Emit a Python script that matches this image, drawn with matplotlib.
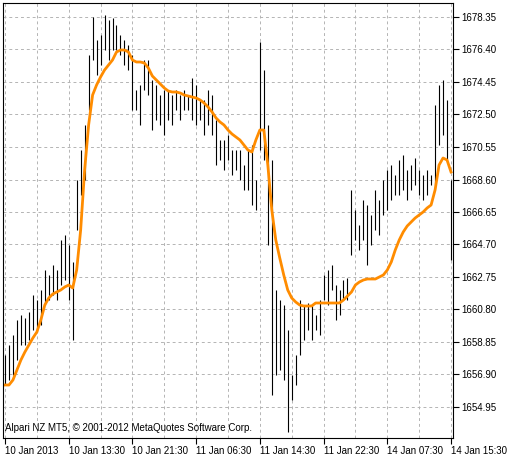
import numpy as np
import matplotlib.pyplot as plt
from matplotlib.ticker import FixedLocator, NullFormatter

plt.rcParams['font.family'] = ['Liberation Sans', 'DejaVu Sans']

# bar highs / lows (one bar every index)
highs = [1658.07, 1658.67, 1659.27, 1660.17, 1660.47, 1660.29, 1660.65, 1661.67, 1661.37, 1661.97,
         1663.17, 1662.87, 1663.47, 1663.17, 1664.97, 1665.27, 1664.67, 1663.65, 1668.57, 1670.37,
         1671.87, 1676.07, 1678.35, 1676.97, 1677.27, 1678.47, 1678.17, 1678.29, 1677.87, 1677.27,
         1676.97, 1676.67, 1676.07, 1673.97, 1674.27, 1675.77, 1675.77, 1674.57, 1674.27, 1673.67,
         1673.97, 1673.97, 1673.67, 1673.97, 1673.67, 1673.97, 1673.67, 1674.69, 1674.27, 1673.37,
         1673.37, 1673.97, 1673.67, 1672.17, 1670.97, 1670.97, 1671.27, 1670.37, 1670.37, 1670.37,
         1669.47, 1670.37, 1670.67, 1668.57, 1676.85, 1675.17, 1671.87, 1669.77, 1661.97, 1661.37,
         1661.07, 1659.57, 1656.87, 1658.07, 1661.37, 1661.07, 1661.19, 1661.07, 1660.47, 1661.37,
         1662.87, 1663.17, 1663.47, 1662.27, 1661.97, 1662.57, 1662.69, 1667.97, 1666.77, 1665.87,
         1667.37, 1667.07, 1666.47, 1667.97, 1667.37, 1668.57, 1669.17, 1669.47, 1668.87, 1669.77,
         1670.07, 1669.17, 1669.47, 1669.89, 1669.17, 1668.87, 1669.17, 1668.87, 1673.07, 1674.27,
         1674.57, 1673.37, 1668.57]
lows = [1656.27, 1656.57, 1656.87, 1657.77, 1658.67, 1658.67, 1658.97, 1659.57, 1659.45, 1659.87,
        1661.07, 1661.37, 1661.67, 1661.37, 1662.27, 1662.57, 1661.37, 1658.97, 1665.57, 1667.67,
        1668.57, 1672.77, 1675.77, 1674.87, 1675.47, 1676.37, 1675.77, 1676.37, 1676.37, 1676.07,
        1675.47, 1675.17, 1672.77, 1672.77, 1671.87, 1673.97, 1673.67, 1671.57, 1672.17, 1671.87,
        1671.27, 1672.17, 1671.87, 1672.77, 1672.17, 1672.77, 1672.77, 1672.17, 1671.87, 1672.17,
        1671.27, 1671.87, 1671.27, 1669.47, 1669.77, 1669.17, 1669.77, 1668.87, 1669.17, 1668.57,
        1667.97, 1667.97, 1667.07, 1666.77, 1670.37, 1669.77, 1664.67, 1655.67, 1656.87, 1657.17,
        1656.57, 1653.45, 1655.37, 1656.27, 1658.07, 1658.97, 1659.57, 1658.97, 1659.57, 1659.27,
        1661.37, 1661.07, 1661.97, 1660.17, 1660.47, 1661.37, 1661.37, 1664.07, 1664.97, 1664.37,
        1664.97, 1663.47, 1664.67, 1665.57, 1665.27, 1666.47, 1666.77, 1667.37, 1667.67, 1667.67,
        1667.97, 1667.37, 1667.97, 1668.27, 1667.67, 1667.37, 1667.67, 1668.27, 1668.27, 1670.67,
        1671.27, 1669.77, 1663.77]
ma = [1656.27, 1656.27, 1656.57, 1657.17, 1657.77, 1658.25, 1658.67, 1659.09, 1659.45, 1660.17,
      1661.07, 1661.49, 1661.73, 1661.85, 1661.97, 1662.15, 1662.27, 1662.09, 1663.17, 1665.57,
      1669.17, 1671.87, 1673.67, 1674.27, 1674.75, 1675.17, 1675.47, 1675.77, 1676.25, 1676.37,
      1676.37, 1676.25, 1675.77, 1675.65, 1675.65, 1675.59, 1675.29, 1674.81, 1674.57, 1674.33,
      1674.09, 1673.91, 1673.85, 1673.85, 1673.79, 1673.67, 1673.61, 1673.55, 1673.49, 1673.37,
      1673.19, 1672.95, 1672.65, 1672.29, 1672.05, 1671.87, 1671.57, 1671.33, 1671.15, 1670.97,
      1670.67, 1670.37, 1670.25, 1670.97, 1671.57, 1671.57, 1669.47, 1666.77, 1664.97, 1663.89,
      1662.87, 1661.97, 1661.49, 1661.25, 1661.07, 1661.01, 1661.01, 1661.01, 1661.19, 1661.19,
      1661.19, 1661.19, 1661.19, 1661.19, 1661.19, 1661.37, 1661.61, 1661.85, 1662.27, 1662.45,
      1662.57, 1662.63, 1662.63, 1662.63, 1662.75, 1662.87, 1663.17, 1663.65, 1664.37, 1664.97,
      1665.45, 1665.81, 1666.05, 1666.29, 1666.47, 1666.65, 1666.89, 1667.07, 1667.97, 1669.47,
      1669.89, 1669.77, 1669.05]

x_labels = ["10 Jan 2013", "10 Jan 13:30", "10 Jan 21:30", "11 Jan 06:30",
            "11 Jan 14:30", "11 Jan 22:30", "14 Jan 07:30", "14 Jan 15:30"]
price_ticks = [1678.35, 1676.40, 1674.45, 1672.50, 1670.55, 1668.60, 1666.65,
               1664.70, 1662.75, 1660.80, 1658.85, 1656.90, 1654.95]

fig = plt.figure(figsize=(5.10, 4.59), dpi=100)
ax = fig.add_axes([3 / 510, 21 / 459, 450 / 510, 435 / 459])

idx = np.arange(len(highs))
ax.vlines(idx, lows, highs, color='black', linewidth=0.8)
ax.plot(idx, ma, color='#ff8c00', linewidth=2)

ax.set_xlim(-0.5, len(highs) - 0.5)
ax.set_ylim(1653.09, 1679.19)

ax.yaxis.tick_right()
ax.set_yticks(price_ticks)
ax.set_yticklabels([f"{p:.2f}" for p in price_ticks], fontsize=7)
ax.xaxis.set_major_locator(FixedLocator(np.arange(0, 113, 16)))
ax.set_xticklabels(x_labels, fontsize=7, ha='left')
ax.xaxis.set_minor_locator(FixedLocator(np.arange(8, 113, 16)))
ax.xaxis.set_minor_formatter(NullFormatter())
ax.tick_params(axis='both', length=4, width=0.8, color='black', pad=2)
ax.tick_params(axis='x', which='minor', length=0)
ax.grid(True, which='both', color='#b4b4b4', linestyle=(0, (3, 3)), linewidth=0.7)
for s in ax.spines.values():
    s.set_color('black')

ax.text(0.005, 0.012, "Alpari NZ MT5, \u00a9 2001-2012 MetaQuotes Software Corp.",
        transform=ax.transAxes, fontsize=7, ha='left', va='bottom')

fig.savefig("out.png", dpi=100)
